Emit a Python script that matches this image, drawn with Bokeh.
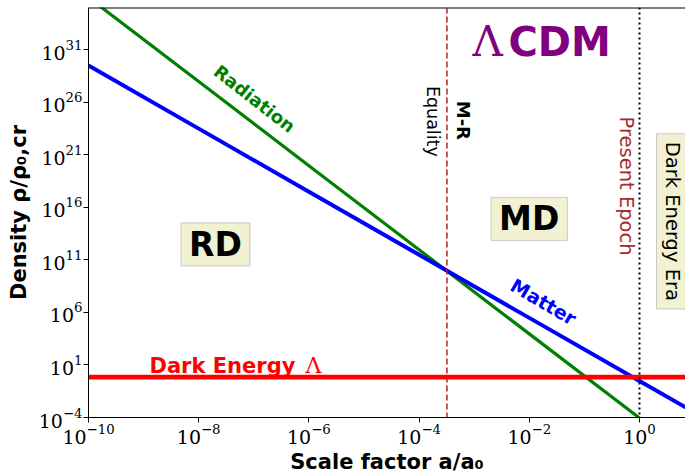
import math
from bokeh.plotting import figure
from bokeh.models import Label, Span, FixedTicker, Range1d
from bokeh.embed import file_html
from bokeh.resources import INLINE

# ---------------- data ----------------
a_vals = [1e-10, 1e-8, 1e-6, 1e-4, 1e-2, 1e0, 1e1]
rho_radiation = [9e35, 9e27, 9e19, 9e11, 9e3, 9e-5, 9e-9]
rho_matter = [3e29, 3e23, 3e17, 3e11, 3e5, 3e-1, 3e-4]
rho_lambda = [0.7, 0.7, 0.7, 0.7, 0.7, 0.7, 0.7]
a_equality = 3.2e-4
a_present = 1.0
x_ticks = [1e-10, 1e-8, 1e-6, 1e-4, 1e-2, 1e0]
y_ticks = [1e-4, 1e1, 1e6, 1e11, 1e16, 1e21, 1e26, 1e31]

# ---------------- figure ----------------
FL, FB = 88, 425          # frame left / bottom in page px
DX, DY = 55.1, 10.72      # px per decade
Y_TOP = 1e35


def ax(px):
    return 10 ** (-10 + (px - FL) / DX)


def ay(py):
    return 10 ** (-4 + (FB - py) / DY)


p = figure(width=685, height=476, x_axis_type="log", y_axis_type="log",
           x_range=Range1d(1e-10, 10 ** 0.835), y_range=Range1d(1e-4, Y_TOP),
           output_backend="svg", toolbar_location=None,
           min_border_left=88, min_border_right=0, min_border_top=7, min_border_bottom=51)
p.outline_line_color = None
p.xgrid.visible = False
p.ygrid.visible = False

for axis, ticks in ((p.xaxis, x_ticks), (p.yaxis, y_ticks)):
    axis.ticker = FixedTicker(ticks=ticks, minor_ticks=[])
    axis.axis_line_color = "black"
    axis.axis_line_width = 1
    axis.major_tick_line_color = "black"
    axis.major_tick_out = 5
    axis.major_tick_in = 0
    axis.minor_tick_line_color = None
    axis.major_label_text_font = "DejaVu Serif"
    axis.major_label_text_font_size = "19px"
    axis.major_label_text_color = "black"
    axis.axis_label_text_font = "DejaVu Sans"
    axis.axis_label_text_font_style = "bold"
    axis.axis_label_text_font_size = "21px"
    axis.axis_label_text_color = "black"

p.xaxis.major_label_standoff = 1
p.yaxis.major_label_standoff = 1
p.xaxis.axis_label = "Scale factor a/a₀"
p.yaxis.axis_label = "Density ρ/ρ₀,cr"
p.xaxis.axis_label_standoff = 3
p.yaxis.axis_label_standoff = 5

# top spine
p.add_layout(Span(location=Y_TOP, dimension="width", line_color="black", line_width=2))

# ---------------- lines ----------------
p.line(a_vals, rho_radiation, line_color="green", line_width=3.2)
p.line(a_vals, rho_matter, line_color="blue", line_width=4)
p.line(a_vals, rho_lambda, line_color="red", line_width=4.6)
p.add_layout(Span(location=a_equality, dimension="height", line_color="#b22222",
                  line_width=1.5, line_dash="6 3"))
p.add_layout(Span(location=a_present, dimension="height", line_color="black",
                  line_width=2, line_dash="2 3"))


def lab(x, y, text, size, color="black", style="normal", font="DejaVu Sans",
        angle=0.0, align="center", baseline="middle", **kw):
    p.add_layout(Label(x=x, y=y, text=text,
                       text_font=font, text_font_size=f"{size}px", text_color=color,
                       text_font_style=style, angle=angle, text_align=align,
                       text_baseline=baseline, **kw))


BOX = dict(background_fill_color="#f2f2d2", border_line_color="#c8c8c8", border_line_width=1)

# ---------------- annotations ----------------
lab(ax(472), ay(42), "Λ", 42, "purple", font="DejaVu Serif", align="left")
lab(ax(508), ay(42), "CDM", 40, "purple", style="bold", align="left")

lab(ax(149), ay(372), "Dark Energy", 21, "red", style="bold", align="left")
lab(ax(305), ay(372), "Λ", 22, "red", font="DejaVu Serif", align="left")

lab(ax(254), ay(100), "Radiation", 18, "green", style="bold", angle=-0.661)
lab(ax(543), ay(307), "Matter", 19, "blue", style="bold", angle=-0.529)

lab(ax(463), ay(122), "M-R", 18, "black", style="bold", angle=-math.pi / 2)
lab(ax(433), ay(123), "Equality", 17.5, "black", angle=-math.pi / 2)
lab(ax(626.5), ay(189), "Present Epoch", 19.5, "#a52a2a", angle=-math.pi / 2)
lab(ax(672.5), ay(225), "Dark Energy Era", 19.5, "black", angle=-math.pi / 2,
    padding=dict(left=8, right=8, top=5, bottom=5), **BOX)

lab(ax(215), ay(248.5), "RD", 33, "black", style="bold",
    padding=dict(left=8, right=8, top=2, bottom=2), **BOX)
lab(ax(528.7), ay(222.5), "MD", 33, "black", style="bold",
    padding=dict(left=8, right=8, top=2, bottom=2), **BOX)

open("out.html", "w").write(file_html(p, INLINE))
